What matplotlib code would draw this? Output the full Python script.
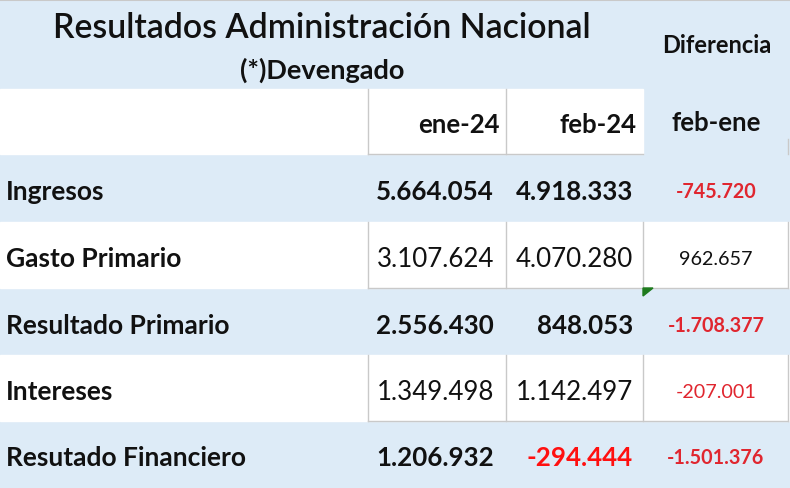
import matplotlib.pyplot as plt
from matplotlib.patches import Rectangle, Polygon

# Table contents
title = 'Resultados Administración Nacional'
subtitle = '(*)Devengado'
col_heads = ['ene-24', 'feb-24']
diff_head = ['Diferencia', 'feb-ene']
rows = ['Ingresos', 'Gasto Primario', 'Resultado Primario', 'Intereses', 'Resutado Financiero']
ene = [5664054, 3107624, 2556430, 1349498, 1206932]
feb = [4918333, 4070280, 848053, 1142497, -294444]
diff = [-745720, 962657, -1708377, -207001, -1501376]
is_bold = [True, False, True, False, True]

BLUE = '#DDEBF7'
GRID = '#C9C9C9'
RED_DIFF = '#E0262F'
RED = '#FF1010'
INK = '#111111'
FONT = 'Lato'


def fmt(v):
    s = f'{abs(v):,}'.replace(',', '.')
    return '-' + s if v < 0 else s


fig = plt.figure(figsize=(7.9, 4.89), dpi=100)
ax = fig.add_axes([0, 0, 1, 1])
ax.set_xlim(0, 790)
ax.set_ylim(489, 0)
ax.axis('off')

# column edges and row edges in pixels
x_lab, x_ene, x_feb, x_dif, x_end = 0, 368, 506, 643, 788
row_top = [155, 223, 289, 356, 422]
row_h = [68, 66, 67, 66, 67]

# header band
ax.add_patch(Rectangle((0, 0), 790, 489, color=BLUE, zorder=0))
ax.plot([0, 790], [0.8, 0.8], color=GRID, lw=1.5)
ax.add_patch(Rectangle((0, 90), x_dif, 65, color='white', zorder=1))
for xv in [x_ene, x_feb]:
    ax.plot([xv, xv], [90, 155], color=GRID, lw=1, zorder=2)
ax.plot([x_ene, x_dif], [155, 155], color=GRID, lw=1, zorder=2)
ax.plot([x_end, x_end], [140, 155], color=GRID, lw=1, zorder=2)

ax.text(322, 38, title, fontsize=24.4, family=FONT, weight='semibold', ha='center', va='baseline', color=INK)
ax.text(322, 79, subtitle, fontsize=19.5, family=FONT, weight='bold', ha='center', va='baseline', color=INK)
ax.text(717, 53, diff_head[0], fontsize=17, family=FONT, weight='bold', ha='center', va='baseline', color=INK)
ax.text(716, 131, diff_head[1], fontsize=18.5, family=FONT, weight='bold', ha='center', va='baseline', color=INK)
ax.text(x_feb - 6, 133, col_heads[0], fontsize=18.5, family=FONT, weight='bold', ha='right', va='baseline', color=INK)
ax.text(x_dif - 6, 133, col_heads[1], fontsize=18.5, family=FONT, weight='bold', ha='right', va='baseline', color=INK)

for i, name in enumerate(rows):
    top, h = row_top[i], row_h[i]
    base = top + h / 2 + 11
    w = 'bold' if is_bold[i] else 'normal'
    if not is_bold[i]:
        ax.add_patch(Rectangle((0, top), 790, h, color='white', zorder=1))
        for xv in [x_ene, x_feb, x_dif, x_end]:
            ax.plot([xv, xv], [top, top + h], color=GRID, lw=1, zorder=2)
        ax.plot([x_ene, x_end], [top + h, top + h], color=GRID, lw=1, zorder=2)
    ax.text(6, base, name, fontsize=19, family=FONT, weight='bold', ha='left', va='baseline', color=INK, zorder=3)
    ax.text(x_feb - 12, base, fmt(ene[i]), fontsize=18.6, family=FONT, weight=w, ha='right', va='baseline',
            color=INK, zorder=3)
    ax.text(x_dif - 10, base, fmt(feb[i]), fontsize=18.6, family=FONT, weight=w, ha='right', va='baseline',
            color=RED if feb[i] < 0 else INK, zorder=3)
    ax.text(716, base - 2, fmt(diff[i]), fontsize=14.2, family=FONT, weight=w, ha='center', va='baseline',
            color=RED_DIFF if diff[i] < 0 else INK, zorder=3)

# small green cell marker
ax.add_patch(Polygon([[x_dif, row_top[2]], [x_dif + 10, row_top[2]], [x_dif, row_top[2] + 8]],
                     color='#1E7B1E', zorder=4))

fig.savefig('out.png', dpi=100)
